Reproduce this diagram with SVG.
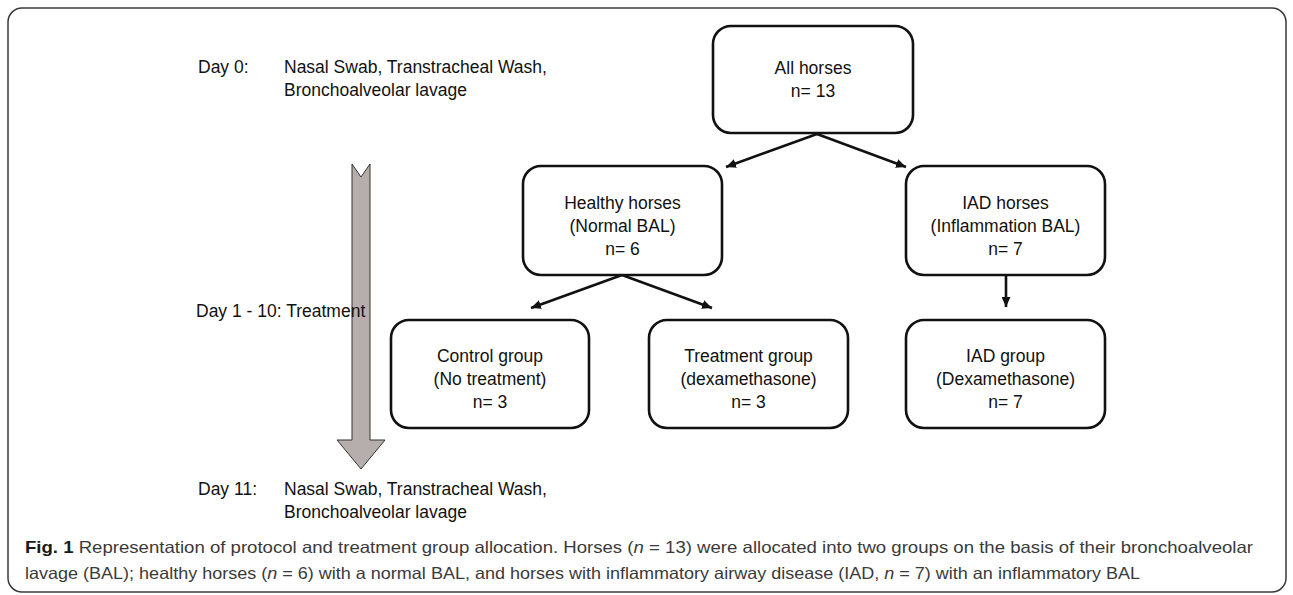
<svg xmlns="http://www.w3.org/2000/svg" width="1293" height="595" viewBox="0 0 1293 595">
<defs>
<marker id="ah" markerUnits="userSpaceOnUse" markerWidth="11" markerHeight="9" refX="10" refY="4.5" orient="auto">
<path d="M0,0 L10,4.5 L0,9 Z" fill="#111"/>
</marker>
<style>
.t{font-family:"Liberation Sans",Arial,sans-serif;font-size:17.5px;fill:#111}
.c{text-anchor:middle}
.box{fill:#fff;stroke:#111;stroke-width:2.6}
.conn{stroke:#111;stroke-width:2.6;fill:none;marker-end:url(#ah)}
.cap{font-family:"Liberation Sans",Arial,sans-serif;font-size:16.5px;fill:#3a3a3a}
</style>
</defs>
<rect x="8" y="8" width="1278" height="584" rx="14" fill="#fff" stroke="#3a3a3a" stroke-width="1.5"/>

<g id="timeline">
<path d="M352,164 L361,177 L370,164 L370,440 L385,440 L361,469 L337,440 L352,440 Z" fill="#b5aeac" stroke="#333" stroke-width="1"/>
<text class="t" x="198" y="73">Day 0:</text>
<text class="t" x="284" y="73">Nasal Swab, Transtracheal Wash,</text>
<text class="t" x="284" y="96">Bronchoalveolar lavage</text>
<text class="t" x="196" y="317">Day 1 - 10: Treatment</text>
<text class="t" x="198" y="495">Day 11:</text>
<text class="t" x="284" y="495">Nasal Swab, Transtracheal Wash,</text>
<text class="t" x="284" y="518">Bronchoalveolar lavage</text>
</g>

<g id="connectors">
<line class="conn" x1="817" y1="134" x2="726" y2="167"/>
<line class="conn" x1="817" y1="134" x2="906" y2="167"/>
<line class="conn" x1="622" y1="275" x2="531" y2="308"/>
<line class="conn" x1="622" y1="275" x2="712" y2="308"/>
<line class="conn" x1="1006" y1="275" x2="1006" y2="307"/>
</g>

<g id="all-horses">
<rect class="box" x="713" y="26" width="200" height="107" rx="18"/>
<text class="t c" x="813" y="74">All horses</text>
<text class="t c" x="813" y="97">n= 13</text>
</g>

<g id="healthy-horses">
<rect class="box" x="523" y="166" width="199" height="109" rx="18"/>
<text class="t c" x="622.5" y="209">Healthy horses</text>
<text class="t c" x="622.5" y="232">(Normal BAL)</text>
<text class="t c" x="622.5" y="255">n= 6</text>
</g>

<g id="iad-horses">
<rect class="box" x="906" y="166" width="199" height="109" rx="18"/>
<text class="t c" x="1005.5" y="209">IAD horses</text>
<text class="t c" x="1005.5" y="232">(Inflammation BAL)</text>
<text class="t c" x="1005.5" y="255">n= 7</text>
</g>

<g id="control-group">
<rect class="box" x="391" y="320" width="198" height="108" rx="18"/>
<text class="t c" x="490" y="362">Control group</text>
<text class="t c" x="490" y="385">(No treatment)</text>
<text class="t c" x="490" y="408">n= 3</text>
</g>

<g id="treatment-group">
<rect class="box" x="649" y="320" width="199" height="108" rx="18"/>
<text class="t c" x="748.5" y="362">Treatment group</text>
<text class="t c" x="748.5" y="385">(dexamethasone)</text>
<text class="t c" x="748.5" y="408">n= 3</text>
</g>

<g id="iad-group">
<rect class="box" x="906" y="320" width="199" height="108" rx="18"/>
<text class="t c" x="1005.5" y="362">IAD group</text>
<text class="t c" x="1005.5" y="385">(Dexamethasone)</text>
<text class="t c" x="1005.5" y="408">n= 7</text>
</g>

<g id="caption">
<text class="cap" x="25" y="553" textLength="1228" lengthAdjust="spacingAndGlyphs"><tspan font-weight="bold" fill="#1a1a1a">Fig. 1</tspan> Representation of protocol and treatment group allocation. Horses (<tspan font-style="italic">n</tspan> = 13) were allocated into two groups on the basis of their bronchoalveolar</text>
<text class="cap" x="25" y="579" textLength="1115" lengthAdjust="spacingAndGlyphs">lavage (BAL); healthy horses (<tspan font-style="italic">n</tspan> = 6) with a normal BAL, and horses with inflammatory airway disease (IAD, <tspan font-style="italic">n</tspan> = 7) with an inflammatory BAL</text>
</g>
</svg>
